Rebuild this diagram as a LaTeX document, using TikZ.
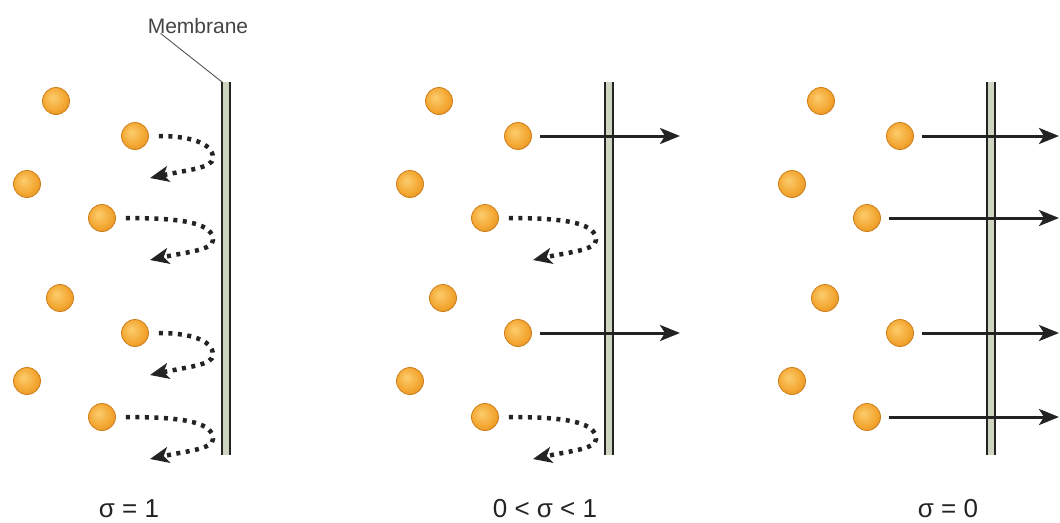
\documentclass[tikz,border=0pt]{standalone}
\usepackage{fontspec}
\setmainfont{Liberation Sans}
\usetikzlibrary{arrows.meta,positioning}
\definecolor{cHi}{RGB}{252,205,110}
\definecolor{cBall}{RGB}{243,166,48}
\definecolor{cRim}{RGB}{205,125,28}
\definecolor{cMem}{RGB}{205,212,192}
\definecolor{cInk}{RGB}{35,35,35}
% orange particle, lighter towards the upper left
\pgfdeclareradialshading[cHi,cBall,cRim]{orb}{\pgfpoint{-7bp}{7bp}}{%
  color(0bp)=(cHi); color(22bp)=(cBall); color(42bp)=(cRim); color(50bp)=(cRim)}

\begin{document}
\begin{tikzpicture}[x=1pt,y=-1pt,
  particle/.style={circle,minimum size=27pt,inner sep=0pt,shading=orb,draw=cRim,line width=0.8pt},
  pass/.style={cInk,line width=3pt,-{Stealth[length=20pt,width=16pt,inset=5pt]}},
  bounce/.style={cInk,line width=4.5pt,dash pattern=on 4pt off 5.5pt,-{Stealth[length=19pt,width=16pt,inset=5pt]}},
  memline/.style={cInk,line width=1.8pt},
  caption/.style={anchor=base,inner sep=0pt,text=cInk,font=\fontsize{26}{30}\selectfont}]
  \useasboundingbox (0,0) rectangle (1060,522);

  % membranes
  \foreach \dx in {0,383,765} {
    \fill[cMem] (222+\dx,82) rectangle (230+\dx,455);
    \draw[memline] (222+\dx,82) -- (222+\dx,455);
    \draw[memline] (230+\dx,82) -- (230+\dx,455);
  }
  \coordinate (memtop) at (222,82);
  \node[anchor=base,inner sep=0pt,text=cInk!85,font=\fontsize{21}{26}\selectfont] (memtext) at (198,33) {Membrane};
  \draw[cInk!85,line width=0.8pt] ([xshift=13pt]memtext.south west) -- (memtop);

  % particles
  \foreach \p/\dx in {1/0,2/383,3/765} {
    \foreach \i/\x/\y in {1/56/101, 2/135/136, 3/27/184, 4/102/218,
                          5/60/298, 6/135/333, 7/27/381, 8/102/417} {
      \node[particle] (p-\p-\i) at (\x+\dx,\y) {};
    }
  }

  % sigma = 1: everything is reflected
  \foreach \i/\y in {2/136,4/218,6/333,8/417} {
    \coordinate (r-1-\i) at (150,\y+42);
    \draw[bounce] ([xshift=10pt]p-1-\i.east) .. controls (187,\y) and (213,\y+6) .. (213,\y+22)
      .. controls (213,\y+32) and (187,\y+34) .. (r-1-\i);
  }
  % 0 < sigma < 1: half passes
  \foreach \i/\y in {2/136,6/333} {
    \coordinate (o-2-\i) at (680,\y);
    \draw[pass] ([xshift=8pt]p-2-\i.east) -- (o-2-\i);
  }
  \foreach \i/\y in {4/218,8/417} {
    \coordinate (r-2-\i) at (533,\y+42);
    \draw[bounce] ([xshift=10pt]p-2-\i.east) .. controls (570,\y) and (596,\y+6) .. (596,\y+22)
      .. controls (596,\y+32) and (570,\y+34) .. (r-2-\i);
  }
  % sigma = 0: everything passes
  \foreach \i/\y in {2/136,4/218,6/333,8/417} {
    \coordinate (o-3-\i) at (1059,\y);
    \draw[pass] ([xshift=8pt]p-3-\i.east) -- (o-3-\i);
  }

  % captions
  \node[caption] (s1) at (129,517) {σ = 1};
  \node[caption] (s2) at (545,517) {0 < σ < 1};
  \node[caption] (s3) at (948,517) {σ = 0};
\end{tikzpicture}
\end{document}
